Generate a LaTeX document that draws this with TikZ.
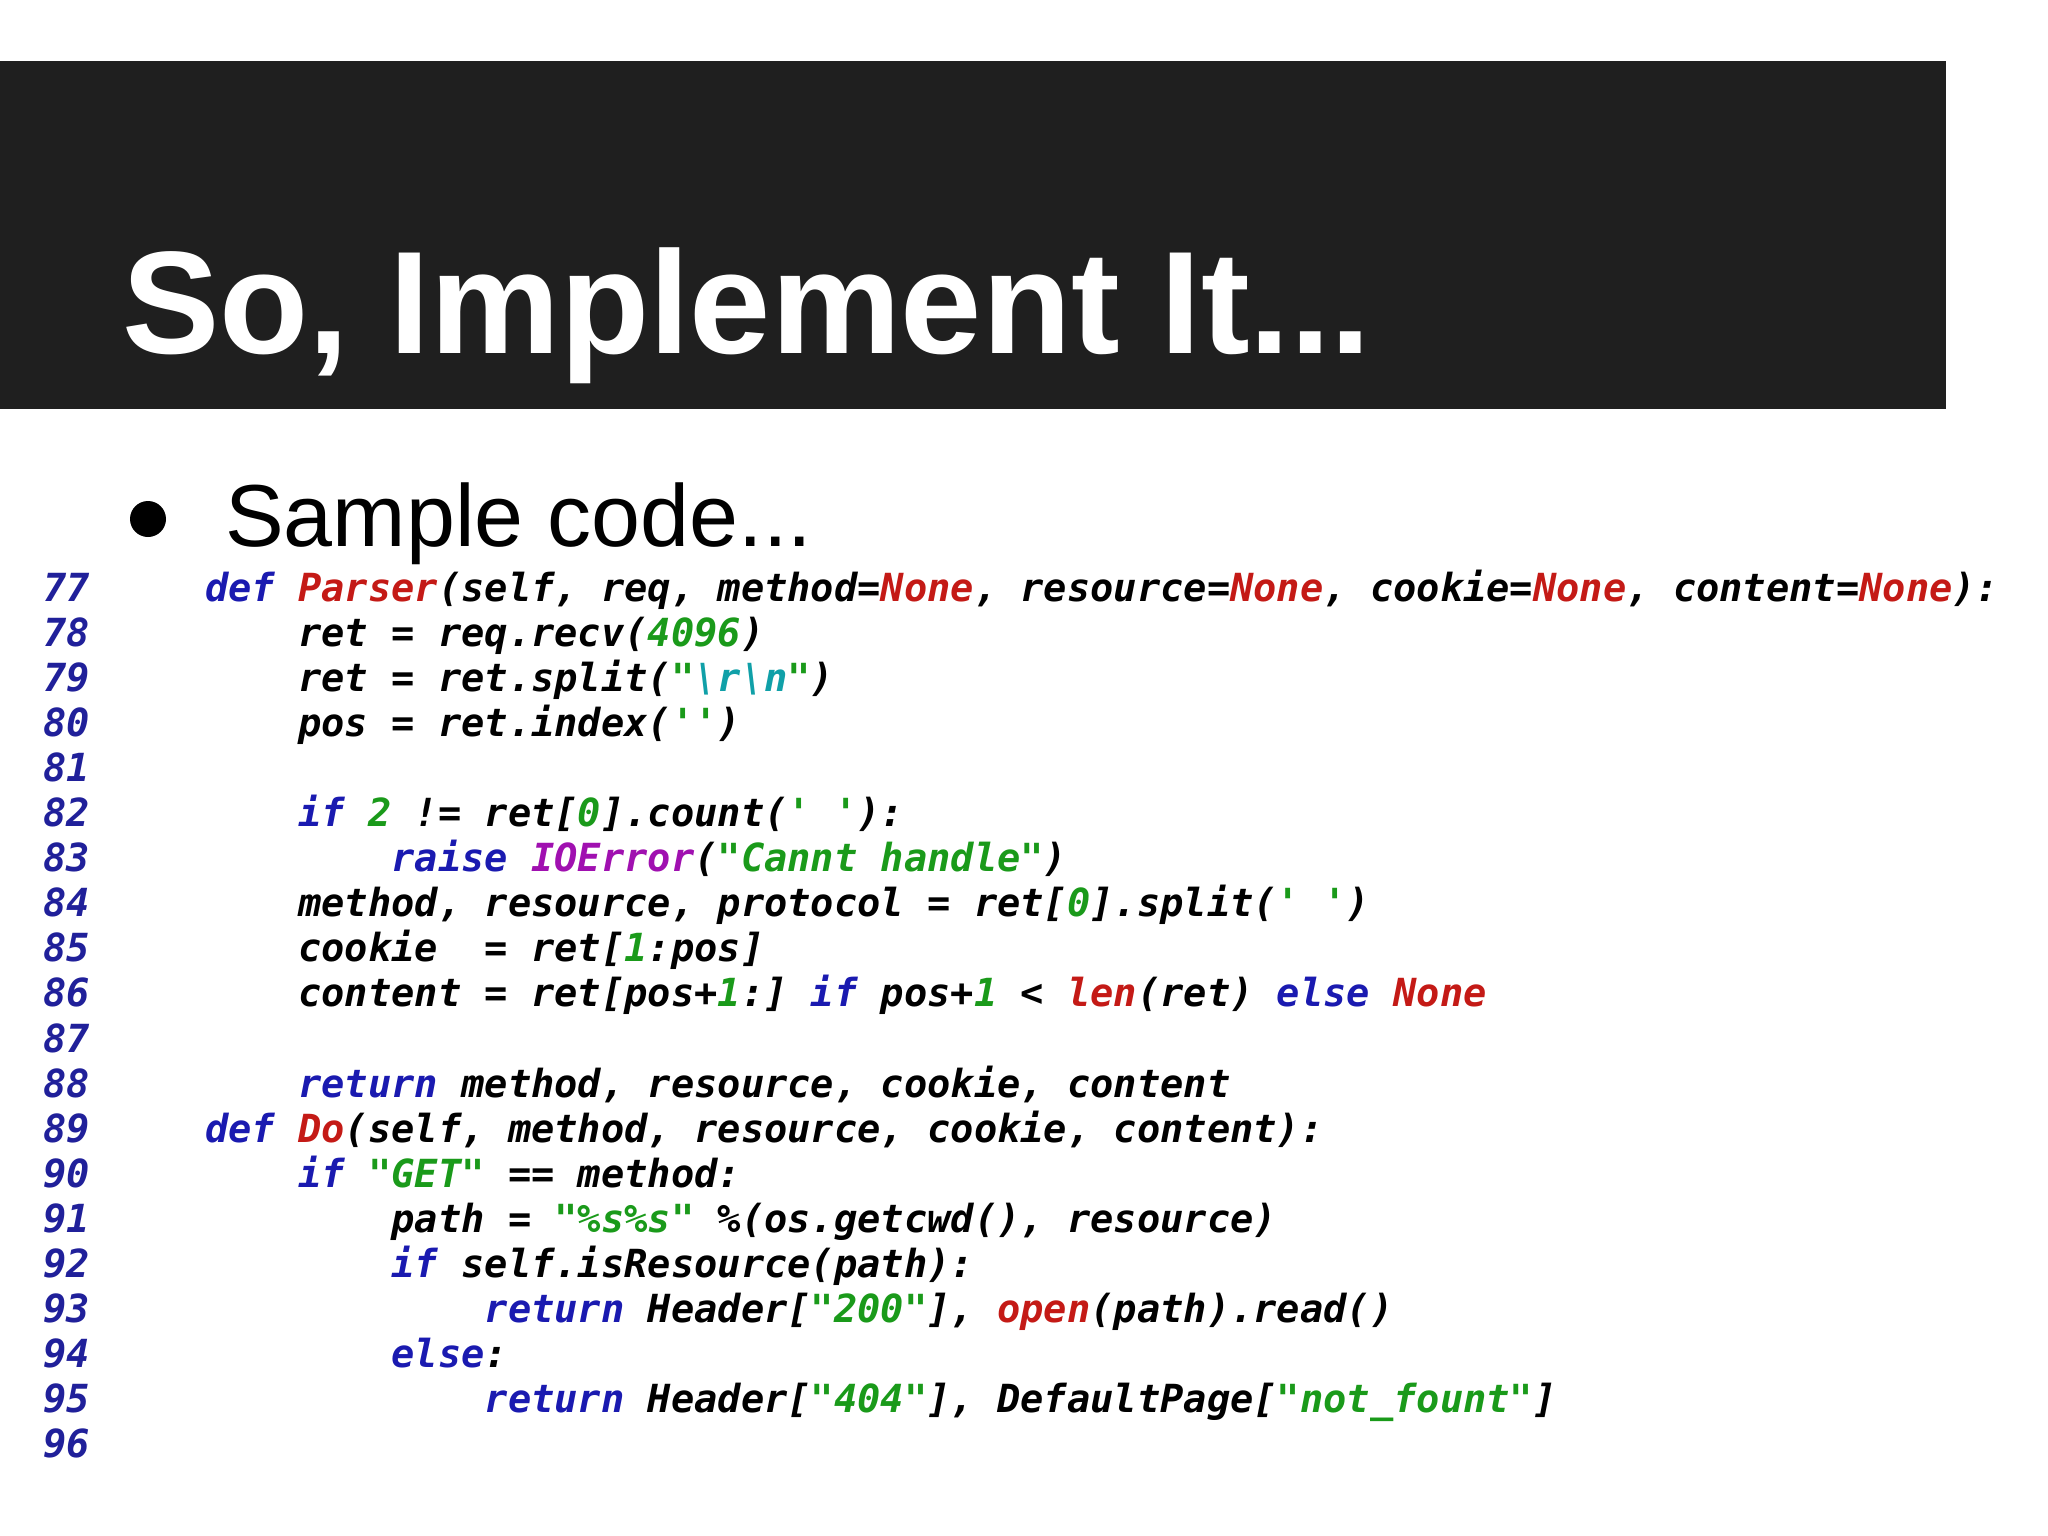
\documentclass[tikz,border=0pt]{standalone}
\usepackage{fontspec}
\setmainfont{Liberation Sans}
\setmonofont{DejaVu Sans Mono}
\definecolor{kw}{HTML}{1A1AB0}
\definecolor{fn}{HTML}{C41A16}
\definecolor{nm}{HTML}{1A9A1A}
\definecolor{es}{HTML}{10A0A8}
\definecolor{pu}{HTML}{A010B0}
\definecolor{ln}{HTML}{20209A}
\newcommand\K[1]{\textcolor{kw}{#1}}
\newcommand\F[1]{\textcolor{fn}{#1}}
\newcommand\N[1]{\textcolor{nm}{#1}}
\newcommand\E[1]{\textcolor{es}{#1}}
\newcommand\Pp[1]{\textcolor{pu}{#1}}
\begin{document}
\begin{tikzpicture}[x=1pt,y=-1pt,
  code/.style={anchor=base west,inner sep=0pt,font=\fontsize{38.7}{40}\selectfont\ttfamily\bfseries\itshape},
  lnum/.style={code,text=ln}]
\useasboundingbox (0,0) rectangle (2048,1536);
\fill[white] (0,0) rectangle (2048,1536);
\fill[black!88] (0,61) rectangle (1946,409);
\node[anchor=base west,inner sep=0pt,text=white,font=\fontsize{146}{150}\selectfont\bfseries] (title) at (122,353) {So, Implement It...};
\fill (148,519) circle (18) coordinate (bul);
\node[anchor=base west,inner sep=0pt,font=\fontsize{88}{90}\selectfont] (sub) at (225,546) {Sample code...};
\foreach \n in {77,...,96} {
  \node[lnum] (l\n) at (43,{601+(\n-77)*45.1}) {\n};
}
\def\cw{23.3}
\newcommand\cl[3]{\node[code] (c#1) at ({205+#2*\cw},{601+(#1-77)*45.1}) {#3};}
\cl{77}{0}{\K{def} \F{Parser}(self, req, method=\F{None}, resource=\F{None}, cookie=\F{None}, content=\F{None}):}
\cl{78}{4}{ret = req.recv(\N{4096})}
\cl{79}{4}{ret = ret.split(\N{"}\E{\textbackslash r\textbackslash n}\N{"})}
\cl{80}{4}{pos = ret.index(\N{''})}
\cl{82}{4}{\K{if} \N{2} != ret[\N{0}].count(\N{'~'}):}
\cl{83}{8}{\K{raise} \Pp{IOError}(\N{"Cannt~handle"})}
\cl{84}{4}{method, resource, protocol = ret[\N{0}].split(\N{'~'})}
\cl{85}{4}{cookie~~= ret[\N{1}:pos]}
\cl{86}{4}{content = ret[pos+\N{1}:] \K{if} pos+\N{1} < \F{len}(ret) \K{else} \F{None}}
\cl{88}{4}{\K{return} method, resource, cookie, content}
\cl{89}{0}{\K{def} \F{Do}(self, method, resource, cookie, content):}
\cl{90}{4}{\K{if} \N{"GET"} == method:}
\cl{91}{8}{path = \N{"\%s\%s"} \%(os.getcwd(), resource)}
\cl{92}{8}{\K{if} self.isResource(path):}
\cl{93}{12}{\K{return} Header[\N{"200"}], \F{open}(path).read()}
\cl{94}{8}{\K{else}:}
\cl{95}{12}{\K{return} Header[\N{"404"}], DefaultPage[\N{"not\_fount"}]}
\end{tikzpicture}
\end{document}
